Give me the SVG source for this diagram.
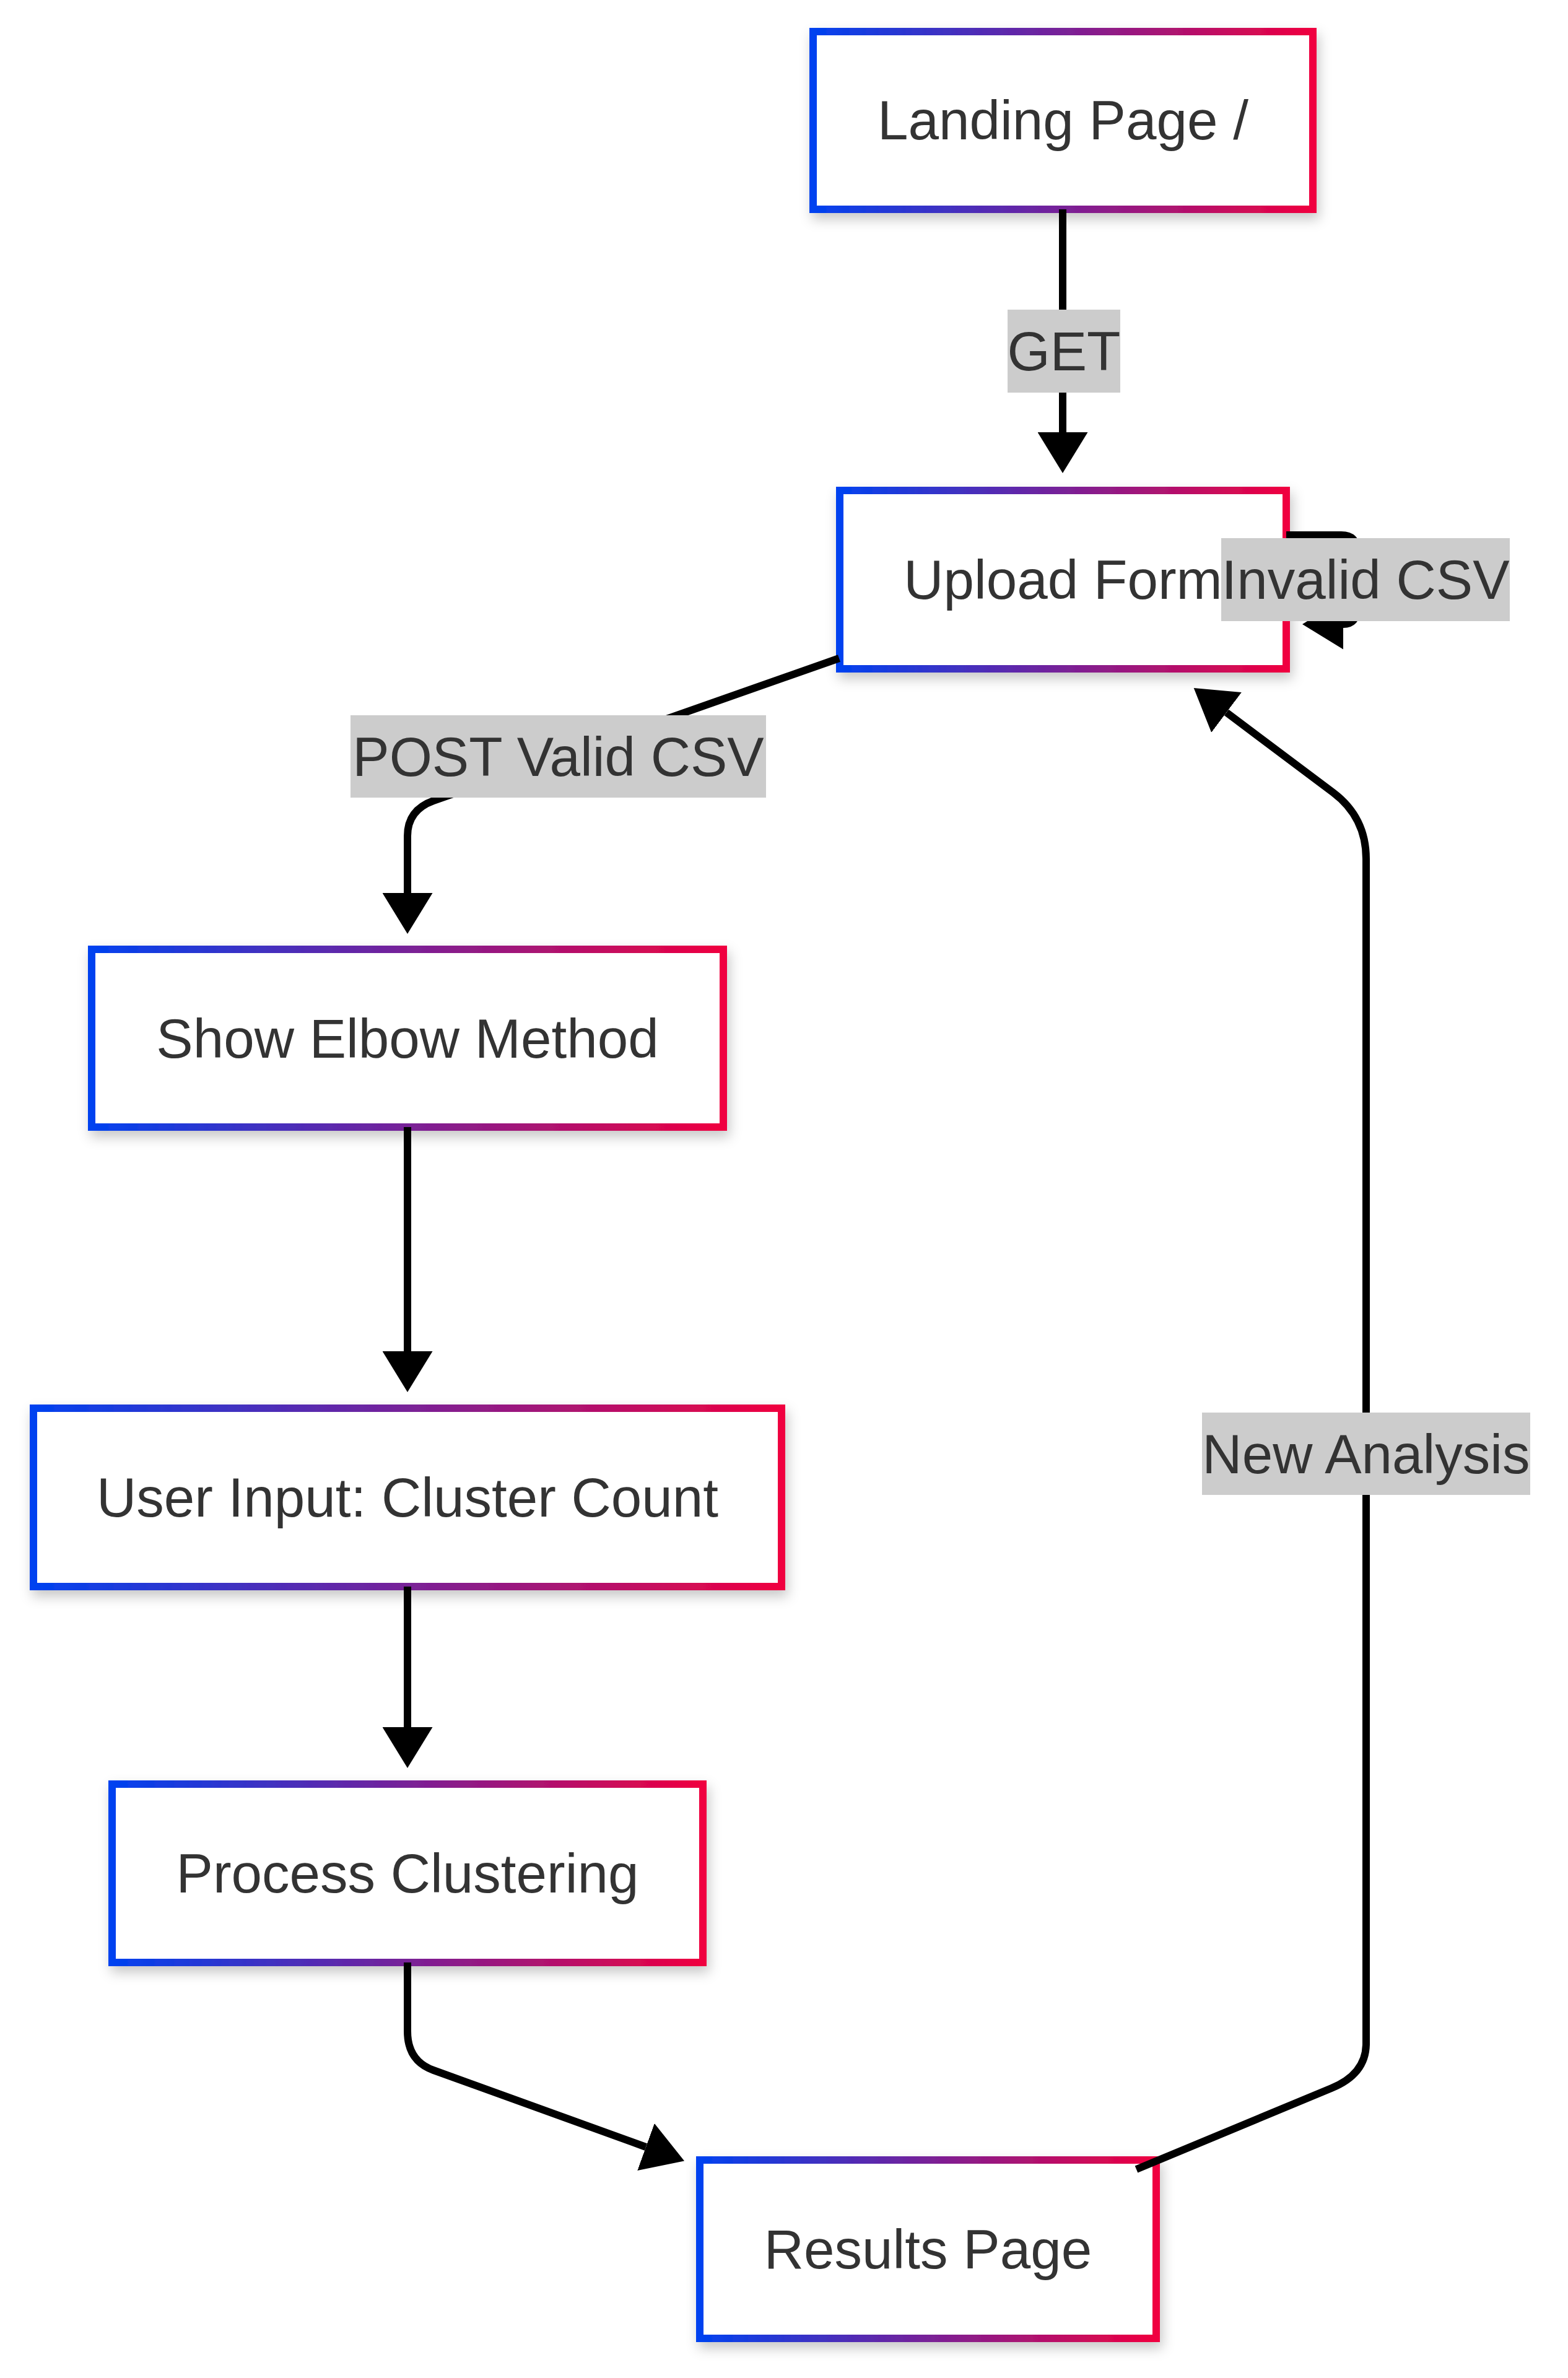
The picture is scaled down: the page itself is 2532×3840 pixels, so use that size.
<svg xmlns="http://www.w3.org/2000/svg" width="2532" height="3840" viewBox="0 0 2532 3840">
<defs>
<linearGradient id="grad" x1="0" y1="0" x2="1" y2="0">
<stop offset="0" stop-color="#0042f0"/>
<stop offset="1" stop-color="#f0003f"/>
</linearGradient>
<filter id="shadow" x="-20%" y="-20%" width="140%" height="150%">
<feDropShadow dx="4" dy="10" stdDeviation="10" flood-color="#000" flood-opacity="0.22"/>
</filter>
<marker id="arrow" markerUnits="userSpaceOnUse" viewBox="0 0 66 81" markerWidth="66" markerHeight="81" refX="0" refY="40.5" orient="auto">
<path d="M0,0 L66,40.5 L0,81 Z" fill="#000"/>
</marker>
</defs>
<style>
.node rect{fill:#fff;stroke:url(#grad);stroke-width:12;filter:url(#shadow)}
.node text,.label text{font-family:"Liberation Sans",Arial,sans-serif;font-size:89px;fill:#333;text-anchor:middle}
.edge{fill:none;stroke:#000;stroke-width:12;marker-end:url(#arrow)}
.label rect{fill:#cccccc}
</style>
<rect width="2532" height="3840" fill="#fff"/>
<g id="nodes">
<g id="landing" class="node"><rect x="1313" y="51" width="807" height="287"/><text x="1716.5" y="225">Landing Page /</text></g>
<g id="upload" class="node"><rect x="1356" y="792" width="721" height="288"/><text x="1716.5" y="967">Upload Form</text></g>
<g id="elbow" class="node"><rect x="148" y="1533" width="1020" height="287"/><text x="658" y="1708">Show Elbow Method</text></g>
<g id="userinput" class="node"><rect x="54" y="2274" width="1208" height="288"/><text x="658" y="2449">User Input: Cluster Count</text></g>
<g id="process" class="node"><rect x="181" y="2881" width="954" height="288"/><text x="658" y="3056">Process Clustering</text></g>
<g id="results" class="node"><rect x="1130" y="3488" width="737" height="288"/><text x="1498.5" y="3663">Results Page</text></g>
</g>
<g id="connectors">
<path class="edge" d="M1716,338 V698"/>
<path class="edge" d="M2077,864 H2166 Q2191,864 2191,889 V983 Q2191,1008 2169,1008"/>
<path class="edge" d="M1355,1063 L700,1293 Q658,1308 658,1350 V1442"/>
<path class="edge" d="M658,1820 V2182"/>
<path class="edge" d="M658,2562 V2789"/>
<path class="edge" d="M658,3169 V3280 Q658,3328 700,3343 L1043,3467"/>
<path class="edge" d="M1835,3503 L2150,3372 Q2206,3349 2206,3300 V1387 Q2206,1320 2153,1280 L1980.5,1150.5"/>
</g>
<g id="edge-labels">
<g class="label"><rect x="1627" y="500" width="182" height="134"/><text x="1718" y="598">GET</text></g>
<g class="label"><rect x="1972" y="869" width="466" height="134"/><text x="2205" y="967">Invalid CSV</text></g>
<g class="label"><rect x="566" y="1155" width="671" height="133"/><text x="901.5" y="1253">POST Valid CSV</text></g>
<g class="label"><rect x="1941" y="2281" width="530" height="133"/><text x="2206" y="2379">New Analysis</text></g>
</g>
</svg>
